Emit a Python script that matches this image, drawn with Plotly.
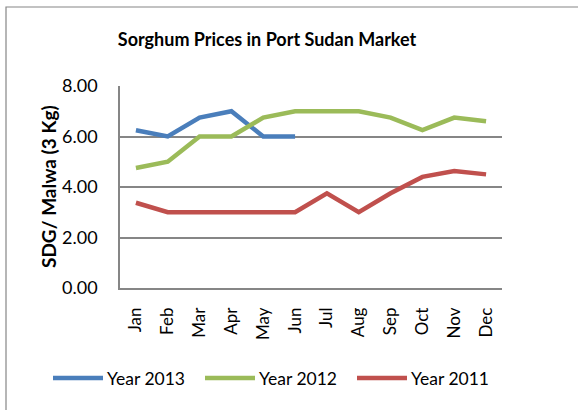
import plotly.graph_objects as go

months = ["Jan", "Feb", "Mar", "Apr", "May", "Jun", "Jul", "Aug", "Sep", "Oct", "Nov", "Dec"]
year_2013 = [6.25, 6.0, 6.75, 7.0, 6.0, 6.0, None, None, None, None, None, None]
year_2012 = [4.75, 5.0, 6.0, 6.0, 6.75, 7.0, 7.0, 7.0, 6.75, 6.25, 6.75, 6.6]
year_2011 = [3.375, 3.0, 3.0, 3.0, 3.0, 3.0, 3.75, 3.0, 3.75, 4.4, 4.63, 4.5]
series_names = ["Year 2013", "Year 2012", "Year 2011"]
colors = ["#4A7EBB", "#9BBB59", "#C0504D"]
y_ticks = [0, 2, 4, 6, 8]

FONT = "Lato"
W, H = 578, 410
L, R, T, B = 120, 76, 86, 122
pw = W - L - R
ph = H - T - B

fig = go.Figure()
for name, vals, c in zip(series_names, [year_2013, year_2012, year_2011], colors):
    fig.add_trace(go.Scatter(x=months, y=vals, name=name, mode="lines",
                             line=dict(color=c, width=4.5), showlegend=False,
                             connectgaps=False))

fig.update_layout(
    width=W, height=H,
    margin=dict(l=L, r=R, t=T, b=B, pad=0),
    paper_bgcolor="white", plot_bgcolor="white",
    font=dict(family=FONT, color="#000000"),
    title=dict(text="<b>Sorghum Prices in Port Sudan Market</b>",
               font=dict(family=FONT, size=18, color="#000"),
               x=267 / W, xanchor="center", y=1 - 40 / H, yanchor="middle"),
    xaxis=dict(type="category", categoryorder="array", categoryarray=months,
               tickangle=-90, tickfont=dict(family=FONT, size=17),
               showgrid=False, showline=True, linecolor="#868686", linewidth=1.5,
               ticks="outside", ticklen=0, ticklabelstandoff=11,
               range=[-0.5, 11.5], fixedrange=True, automargin=False),
    yaxis=dict(range=[0, 8], tickvals=y_ticks, tickformat=".2f",
               tickfont=dict(family=FONT, size=18),
               showgrid=True, gridcolor="#868686", gridwidth=1.5,
               showline=True, linecolor="#868686", linewidth=1.5,
               ticks="outside", ticklen=0, ticklabelstandoff=17,
               zeroline=False, automargin=False, fixedrange=True),
)

# y-axis title
fig.add_annotation(xref="paper", yref="paper", x=(48 - L) / pw, y=0.5,
                   text="<b>SDG/ Malwa (3 Kg)</b>", textangle=-90, showarrow=False,
                   xanchor="center", yanchor="middle",
                   font=dict(family=FONT, size=19, color="#000"))

# outer chart border
fig.add_shape(type="rect", xref="paper", yref="paper",
              x0=(6 - L) / pw, x1=(W + 5 - L) / pw,
              y0=-(B + 10) / ph, y1=1 + (T - 7) / ph,
              line=dict(color="#868686", width=1.2), fillcolor="rgba(0,0,0,0)",
              layer="below")

# custom legend
leg_y = 1 - (378 - T) / ph
starts = [53, 205, 357]
for name, c, sx in zip(series_names, colors, starts):
    fig.add_shape(type="line", xref="paper", yref="paper",
                  x0=(sx - L) / pw, x1=(sx + 50 - L) / pw, y0=leg_y, y1=leg_y,
                  line=dict(color=c, width=4.5))
    fig.add_annotation(xref="paper", yref="paper", x=(sx + 52 - L) / pw, y=leg_y,
                       text=name, showarrow=False, xanchor="left", yanchor="middle",
                       font=dict(family=FONT, size=17.5, color="#000"))

fig.write_html("out.html", config={"displayModeBar": False},
               post_script="document.body.style.margin='0';")
